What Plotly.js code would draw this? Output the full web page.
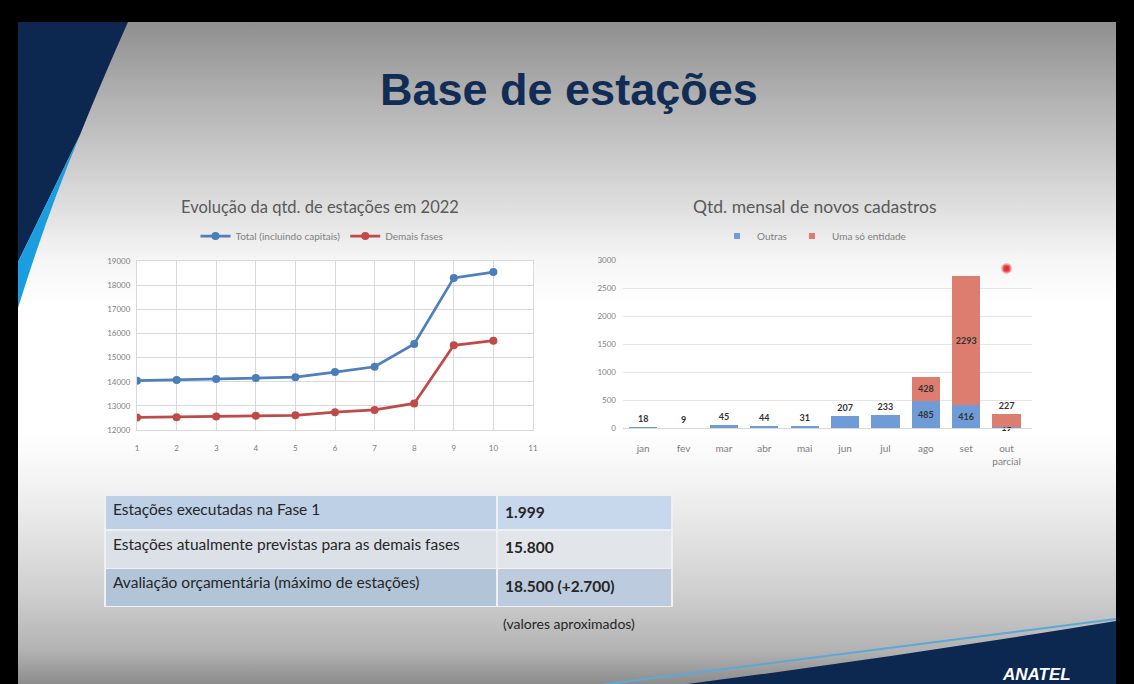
<!DOCTYPE html>
<html><head><meta charset="utf-8">
<script src="https://cdn.plot.ly/plotly-3.0.1.min.js"></script>
<style>
html,body{margin:0;padding:0;background:#000;}
#wrap{position:relative;width:1134px;height:684px;overflow:hidden;background:#000;}
#slide{position:absolute;left:18px;top:22px;width:1098px;height:662px;
background:linear-gradient(to bottom,#8f8f8f 0%,#b3b3b3 12%,#dcdcdc 27%,#f6f6f6 36%,#ffffff 43%,#ffffff 62%,#f4f4f4 69%,#e2e2e2 78%,#cdcdcd 87%,#b2b2b2 95%,#8c8c8c 100%);}
#chart{position:absolute;left:0;top:0;width:1134px;height:684px;}
</style></head><body>
<div id="wrap"><div id="slide"></div><div id="chart"></div></div>
<script>
// ---- data ----
const months = [1,2,3,4,5,6,7,8,9,10];
const totalIncluindoCapitais = [14040,14070,14110,14150,14190,14400,14620,15560,18300,18540];
const demaisFases = [12520,12530,12560,12590,12610,12740,12830,13100,15510,15700];

const monthLabels = ['jan','fev','mar','abr','mai','jun','jul','ago','set','out<br>parcial'];
const outras = [18,9,45,44,31,207,233,485,416,19];
const umaSoEntidade = [null,null,null,null,null,null,null,428,2293,227];
const highlightMonth = ['out<br>parcial'];
const highlightValue = [2850];

const tableLabels = ['Estações executadas na Fase 1','Estações atualmente previstas para as demais fases','Avaliação orçamentária (máximo de estações)'];
const tableValues = ['1.999','15.800','18.500 (+2.700)'];

// ---- helpers ----
const W = 1134, H = 684;
function pp(x,y){return (x/W).toFixed(4)+','+(1-y/H).toFixed(4);}
const FONT = 'Lato, "Open Sans", sans-serif';
const BLUE_BAR = '#6f9bd6', RED_BAR = '#dc7d70';

const outPos = outras.map((v,i)=> i<7 ? 'outside' : 'inside');
const umaPos = umaSoEntidade.map((v,i)=> i===9 ? 'outside' : 'inside');
const lblFont = {size:9,color:'#333333',weight:'bold'};

const traces = [
 {type:'scatter',mode:'lines+markers',x:months,y:totalIncluindoCapitais,name:'Total (incluindo capitais)',
  line:{color:'#4f7fbd',width:2.75},marker:{color:'#4a7ebb',size:8},xaxis:'x',yaxis:'y',legend:'legend'},
 {type:'scatter',mode:'lines+markers',x:months,y:demaisFases,name:'Demais fases',
  line:{color:'#be4b48',width:2.75},marker:{color:'#be4b48',size:8},xaxis:'x',yaxis:'y',legend:'legend'},
 {type:'bar',x:monthLabels,y:outras,name:'Outras',marker:{color:BLUE_BAR},xaxis:'x2',yaxis:'y2',showlegend:false,
  text:outras.map(String),textposition:outPos,constraintext:'none',textangle:0,cliponaxis:false,insidetextanchor:'middle',
  textfont:lblFont,insidetextfont:lblFont,outsidetextfont:lblFont},
 {type:'bar',x:monthLabels,y:umaSoEntidade,name:'Uma só entidade',marker:{color:RED_BAR},xaxis:'x2',yaxis:'y2',showlegend:false,
  text:umaSoEntidade.map(v=>v==null?'':String(v)),textposition:umaPos,constraintext:'none',textangle:0,cliponaxis:false,insidetextanchor:'middle',
  textfont:lblFont,insidetextfont:lblFont,outsidetextfont:lblFont},
 // legend entries for the bar series (small square keys)
 {type:'scatter',mode:'markers',x:[null],y:[null],name:'Outras',marker:{symbol:'square',color:BLUE_BAR,size:6},xaxis:'x2',yaxis:'y2',legend:'legend2'},
 {type:'scatter',mode:'markers',x:[null],y:[null],name:'Uma só entidade',marker:{symbol:'square',color:RED_BAR,size:6},xaxis:'x2',yaxis:'y2',legend:'legend2'},
 {type:'scatter',mode:'markers',x:highlightMonth,y:highlightValue,showlegend:false,hoverinfo:'skip',
  marker:{color:'#e3302b',size:8,line:{color:'rgba(240,130,130,0.55)',width:3}},xaxis:'x2',yaxis:'y2'},
 {type:'table',domain:{x:[105/W,672/W],y:[1-607/H,1-495/H]},columnwidth:[392,175],
  header:{values:[[tableLabels[0]],['<b>'+tableValues[0]+'</b>']],align:'left',height:35,
   fill:{color:['#bdd0e6','#c8d8ec']},line:{color:'#eef0f3',width:1.5},font:{family:FONT,size:15.5,color:'#262626'}},
  cells:{values:[[tableLabels[1],tableLabels[2]],['<b>'+tableValues[1]+'</b>','<b>'+tableValues[2]+'</b>']],align:'left',height:38.5,
   fill:{color:[['#dce1e7','#b2c4d8'],['#e2e6eb','#bccbdd']]},line:{color:'#eef0f3',width:1.5},font:{family:FONT,size:15.5,color:'#262626'}}}
];

const axCommon = {gridcolor:'#d9d9d9',linecolor:'#d9d9d9',zeroline:false,ticks:'',tickfont:{size:8,color:'#7f7f7f'}};

const layout = {
 width:W,height:H,margin:{l:0,r:0,t:0,b:0},
 paper_bgcolor:'rgba(0,0,0,0)',plot_bgcolor:'rgba(0,0,0,0)',
 font:{family:FONT,color:'#595959'},
 barmode:'stack',bargap:0.3,
 xaxis:Object.assign({},axCommon,{domain:[137/W,533/W],range:[1,11],dtick:1,tick0:1,showgrid:true,showline:true,mirror:true,anchor:'y',ticklabelstandoff:10}),
 yaxis:Object.assign({},axCommon,{domain:[1-430/H,1-261/H],range:[12000,19000],dtick:1000,tickformat:'d',showgrid:true,showline:true,mirror:true,anchor:'x',ticklabelstandoff:4}),
 xaxis2:Object.assign({},axCommon,{domain:[623/W,1032/W],showgrid:false,showline:true,anchor:'y2',tickfont:{size:10,color:'#7f7f7f'},ticklabelstandoff:11}),
 yaxis2:Object.assign({},axCommon,{domain:[1-428/H,1-260/H],range:[0,3000],dtick:500,tickformat:'d',showgrid:true,gridcolor:'#e6e6e6',showline:false,anchor:'x2',ticklabelstandoff:6}),
 legend:{x:322/W,xanchor:'center',y:1-236/H,yanchor:'middle',orientation:'h',font:{size:10,color:'#7f7f7f'},bgcolor:'rgba(0,0,0,0)',itemwidth:30,traceorder:'normal'},
 legend2:{x:814/W,xanchor:'center',y:1-236/H,yanchor:'middle',orientation:'h',font:{size:10,color:'#7f7f7f'},bgcolor:'rgba(0,0,0,0)',itemwidth:30,traceorder:'normal'},
 shapes:[
  {type:'rect',xref:'x domain',yref:'y domain',x0:0,x1:1,y0:0,y1:1,fillcolor:'#ffffff',line:{width:0},layer:'below'},
  {type:'path',xref:'paper',yref:'paper',layer:'below',fillcolor:'#0c2851',line:{width:0},
   path:'M'+pp(18,22)+' L'+pp(128,22)+' Q'+pp(100,85)+' '+pp(80,135)+' L'+pp(18,262)+' Z'},
  {type:'path',xref:'paper',yref:'paper',layer:'below',fillcolor:'#1a9ee0',line:{width:0},
   path:'M'+pp(80,135)+' L'+pp(18,262)+' L'+pp(18,308)+' Q'+pp(45,220)+' '+pp(80,135)+' Z'},
  {type:'path',xref:'paper',yref:'paper',layer:'below',fillcolor:'rgba(0,0,0,0)',line:{color:'#5aa9d6',width:2},
   path:'M'+pp(560,690)+' Q'+pp(850,652)+' '+pp(1116,619)},
  {type:'path',xref:'paper',yref:'paper',layer:'below',fillcolor:'#0c2851',line:{width:0},
   path:'M'+pp(640,690)+' Q'+pp(880,660)+' '+pp(1116,621)+' L'+pp(1116,690)+' Z'}
 ],
 annotations:[
  {text:'Base de estações',xref:'paper',yref:'paper',x:569/W,y:1-90/H,xanchor:'center',yanchor:'middle',showarrow:false,
   font:{family:'"Liberation Sans", Arial, sans-serif',size:45,color:'#112d55',weight:'bold'}},
  {text:'Evolução da qtd. de estações em 2022',xref:'paper',yref:'paper',x:320/W,y:1-207/H,xanchor:'center',yanchor:'middle',showarrow:false,
   font:{size:16.5,color:'#595959'}},
  {text:'Qtd. mensal de novos cadastros',xref:'paper',yref:'paper',x:815/W,y:1-207/H,xanchor:'center',yanchor:'middle',showarrow:false,
   font:{size:17.5,color:'#595959'}},
  {text:'(valores aproximados)',xref:'paper',yref:'paper',x:569/W,y:1-623/H,xanchor:'center',yanchor:'middle',showarrow:false,
   font:{size:14,color:'#262626'}},
  {text:'<i><b>ANATEL</b></i>',xref:'paper',yref:'paper',x:1000/W,y:1-663/H,xanchor:'left',yanchor:'top',showarrow:false,
   font:{family:'"Liberation Sans", Arial, sans-serif',size:17,color:'#ffffff'}}
 ]
};

Plotly.newPlot('chart',traces,layout,{displayModeBar:false,staticPlot:true});
</script>
</body></html>
